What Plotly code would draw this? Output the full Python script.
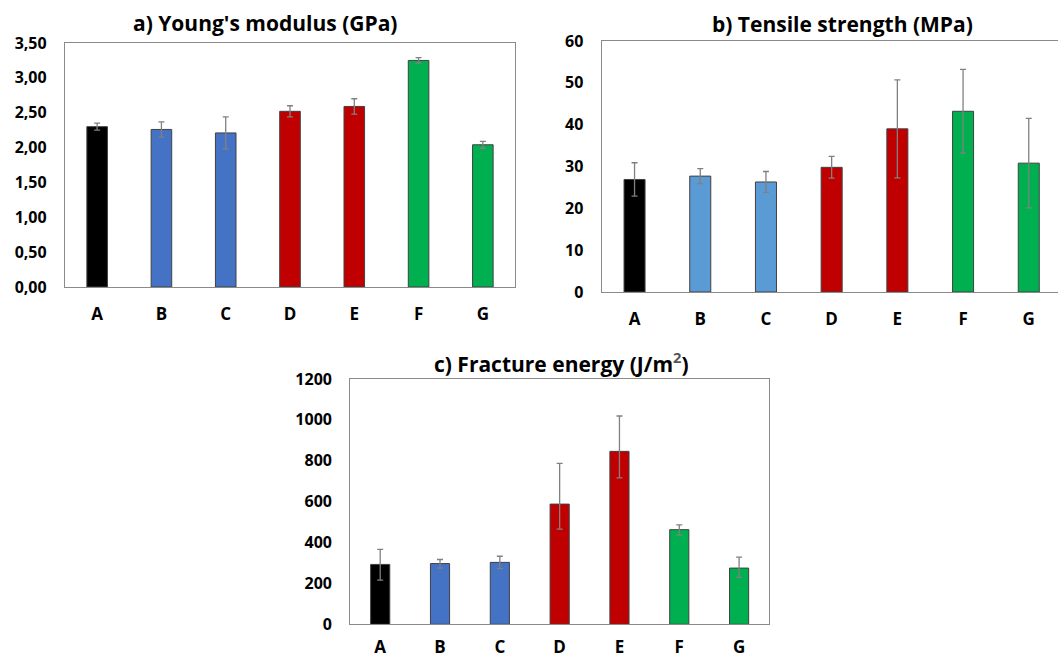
import plotly.graph_objects as go

categories = ["A", "B", "C", "D", "E", "F", "G"]

# a) Young's modulus (GPa)
young = [2.30, 2.26, 2.21, 2.52, 2.59, 3.25, 2.04]
young_err = [0.05, 0.11, 0.23, 0.08, 0.11, 0.04, 0.05]
young_ticks = [0, 0.5, 1.0, 1.5, 2.0, 2.5, 3.0, 3.5]
young_ticktext = ["0,00", "0,50", "1,00", "1,50", "2,00", "2,50", "3,00", "3,50"]

# b) Tensile strength (MPa)
tensile = [26.9, 27.7, 26.3, 29.8, 39.0, 43.2, 30.8]
tensile_err = [4.0, 1.8, 2.5, 2.6, 11.7, 10.0, 10.7]
tensile_ticks = [0, 10, 20, 30, 40, 50, 60]

# c) Fracture energy (J/m2)
fracture = [293, 297, 303, 588, 846, 463, 275]
fracture_err_plus = [74, 20, 30, 199, 173, 23, 54]
fracture_err_minus = [77, 22, 31, 122, 130, 27, 45]
fracture_ticks = [0, 200, 400, 600, 800, 1000, 1200]

colors_ac = ["#000000", "#4472C4", "#4472C4", "#C00000", "#C00000", "#00B050", "#00B050"]
colors_b = ["#000000", "#5B9BD5", "#5B9BD5", "#C00000", "#C00000", "#00B050", "#00B050"]

FONT = "Open Sans"
AX_COLOR = "#8a8a8a"
ERR_COLOR = "#808080"
W, H = 1058, 656

def px_x(p):
    return p / W

def px_y(p):
    return 1 - p / H

fig = go.Figure()

bar_common = dict(width=0.32, marker_line=dict(color="#404040", width=1), showlegend=False)

fig.add_trace(go.Bar(x=categories, y=young, marker_color=colors_ac,
                     error_y=dict(type="data", array=young_err, color=ERR_COLOR, thickness=1.3, width=3),
                     xaxis="x", yaxis="y", **bar_common))
fig.add_trace(go.Bar(x=categories, y=tensile, marker_color=colors_b,
                     error_y=dict(type="data", array=tensile_err, color=ERR_COLOR, thickness=1.3, width=3),
                     xaxis="x2", yaxis="y2", **bar_common))
fig.add_trace(go.Bar(x=categories, y=fracture, marker_color=colors_ac,
                     error_y=dict(type="data", symmetric=False, array=fracture_err_plus,
                                  arrayminus=fracture_err_minus, color=ERR_COLOR, thickness=1.3, width=3),
                     xaxis="x3", yaxis="y3", **bar_common))

ytickfont = dict(family=FONT, size=16, color="#000000", weight="bold")
xtickfont = dict(family=FONT, size=17, color="#000000", weight="bold")

def xax(domain, anchor, rng, mirror=True, standoff=11):
    return dict(domain=domain, anchor=anchor, range=rng, type="category",
                showline=True, linecolor=AX_COLOR, linewidth=1.3, mirror=mirror,
                ticks="", showgrid=False, zeroline=False, tickfont=xtickfont,
                ticklabelstandoff=standoff, fixedrange=True, automargin=False)

def yax(domain, anchor, rng, vals, text, mirror=True):
    return dict(domain=domain, anchor=anchor, range=rng, tickvals=vals, ticktext=text,
                showline=True, linecolor=AX_COLOR, linewidth=1.3, mirror=mirror,
                ticks="", showgrid=False, zeroline=False, tickfont=ytickfont,
                ticklabelstandoff=14, fixedrange=True, automargin=False)

fig.update_layout(
    width=W, height=H,
    margin=dict(l=0, r=0, t=0, b=0, autoexpand=False),
    paper_bgcolor="white", plot_bgcolor="white",
    xaxis=xax([px_x(65), px_x(515)], "y", [-0.5, 6.5]),
    yaxis=yax([px_y(287), px_y(43)], "x", [0, 3.5], young_ticks, young_ticktext),
    xaxis2=xax([px_x(601.7), 1.0], "y2", [-0.5, 6.445], mirror=True),
    yaxis2=yax([px_y(292), px_y(41)], "x2", [0, 60], tensile_ticks, [str(v) for v in tensile_ticks], mirror=False),
    xaxis3=xax([px_x(350.3), px_x(769)], "y3", [-0.5, 6.5], standoff=7),
    yaxis3=yax([px_y(624.3), px_y(379)], "x3", [0, 1200], fracture_ticks, [str(v) for v in fracture_ticks]),
)

title_font = dict(family=FONT, size=21, color="#000000", weight="bold")
titles = [
    ("a) Young's modulus (GPa)", 265, 23),
    ("b) Tensile strength (MPa)", 842.5, 24),
    ("c) Fracture energy (J/m<sup><span style='color:#555555'>2</span></sup>)", 561, 362.7),
]
for text, cx, cy in titles:
    fig.add_annotation(text=text, x=px_x(cx), y=px_y(cy), xref="paper", yref="paper",
                       xanchor="center", yanchor="middle", showarrow=False, font=title_font)

fig.write_html("out.html", config={"displayModeBar": False},
               post_script="document.body.style.margin='0';document.body.style.padding='0';")
